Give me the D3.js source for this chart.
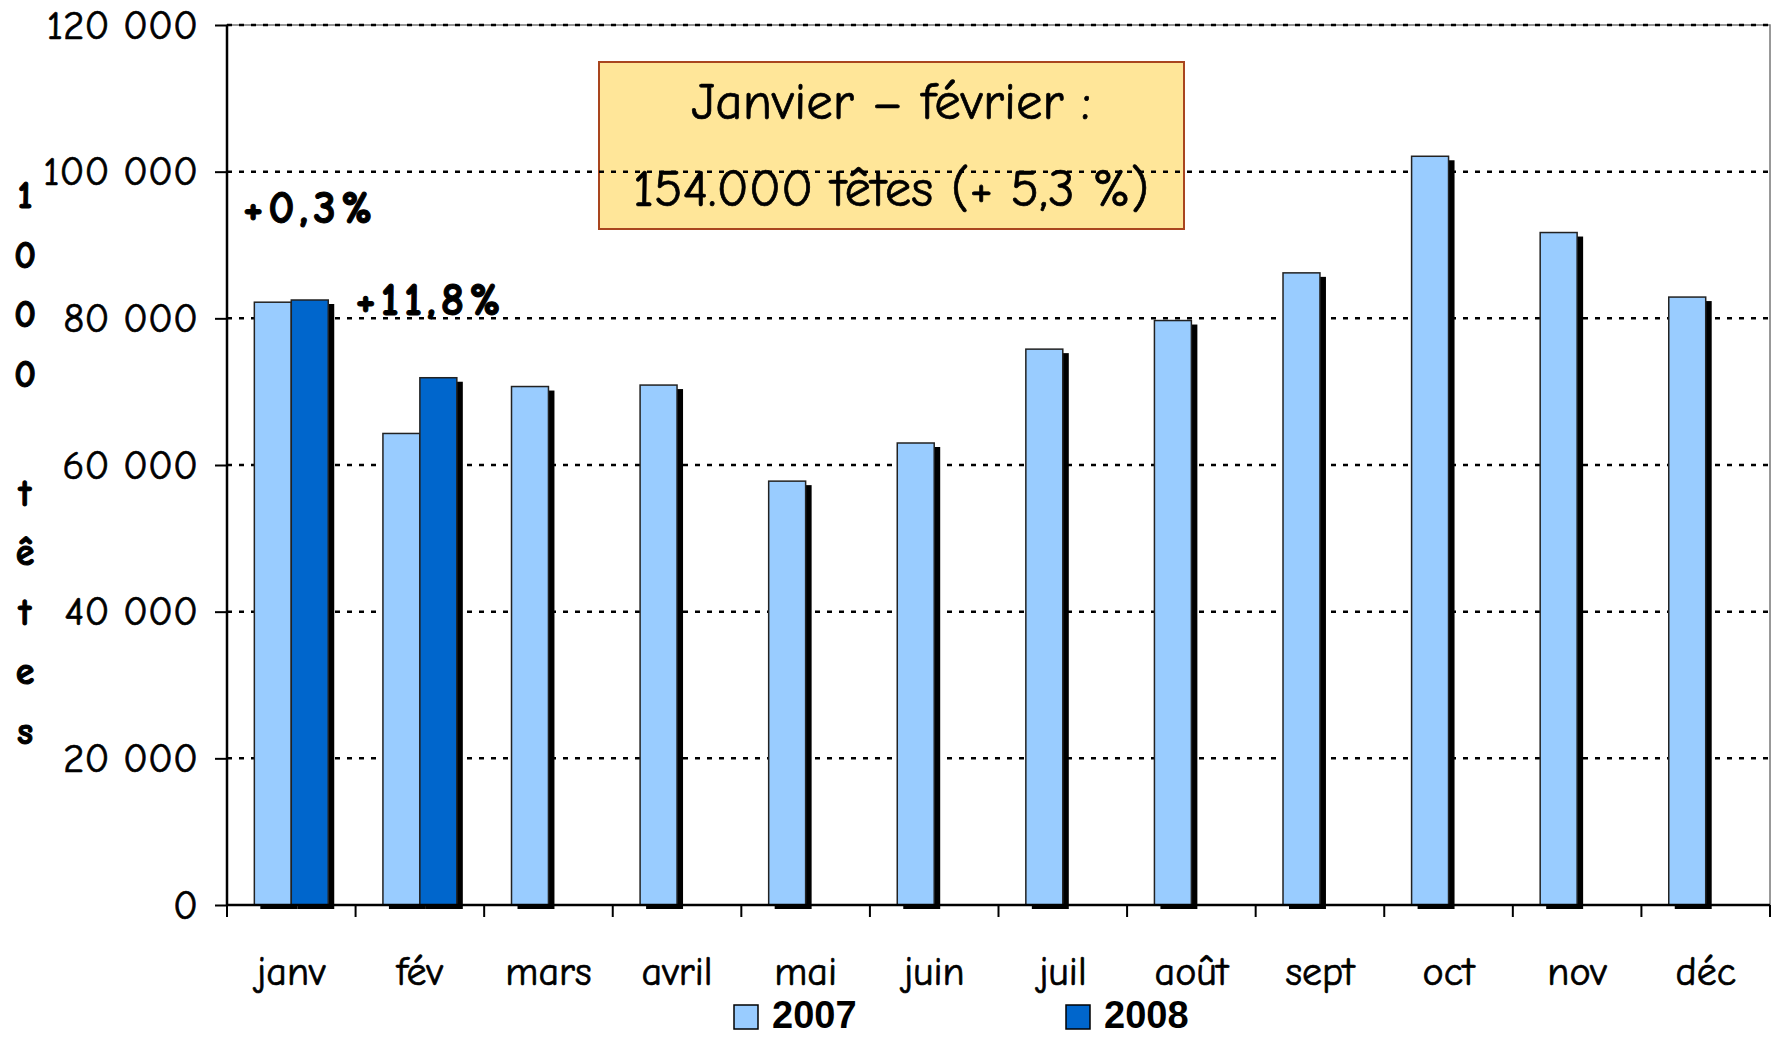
<!DOCTYPE html>
<html>
<head>
<meta charset="utf-8">
<script src="https://cdn.jsdelivr.net/npm/d3@7"></script>
<style>
  body { margin: 0; background: #fff; }
  svg text { font-family: "Comic Sans MS", "Comic Neue", "Open Sans", sans-serif; fill: #000; }
  .thick { stroke: #000; stroke-width: 0.7px; }
</style>
</head>
<body>
<div id="chart"></div>
<script>
var months = ["janv", "fév", "mars", "avril", "mai", "juin", "juil", "août", "sept", "oct", "nov", "déc"];
var years = ["2007", "2008"];
var values2007 = [82.2, 64.3, 70.7, 70.9, 57.8, 63.0, 75.8, 79.7, 86.2, 102.1, 91.7, 82.9];
var values2008 = [82.5, 71.9];
var yTicks = [0, 20000, 40000, 60000, 80000, 100000, 120000];
var growthLabels = ["+0,3%", "+11,8%"];
var axisTitle = "1000 têtes";
var boxLines = ["Janvier – février :", "154.000 têtes (+ 5,3 %)"];

var colors = {"2007": "#99CCFF", "2008": "#0066CC"};

var width = 1776, height = 1038;
var margin = {top: 25, right: 6, bottom: 133, left: 227};
var plotW = width - margin.left - margin.right,
    plotH = height - margin.top - margin.bottom;

var svg = d3.select("#chart").append("svg")
    .attr("width", width)
    .attr("height", height);

var g = svg.append("g")
    .attr("transform", "translate(" + margin.left + "," + margin.top + ")");

var x = d3.scaleBand().domain(months).range([0, plotW]).padding(0);
var x1 = d3.scaleBand().domain(years).range([0, x.bandwidth()]).paddingInner(0).paddingOuter(0.74);
var y = d3.scaleLinear().domain([0, 120000]).range([plotH, 0]);

// rows of data: one per bar
var bars = [];
months.forEach(function(m, i) {
  bars.push({month: m, year: "2007", value: values2007[i] * 1000});
  if (i < values2008.length) bars.push({month: m, year: "2008", value: values2008[i] * 1000});
});

// plot frame
g.append("rect")
    .attr("width", plotW)
    .attr("height", plotH)
    .attr("fill", "none")
    .attr("stroke", "#777")
    .attr("stroke-width", 1.5);

// annotation box (under the grid so the dotted line shows through)
var box = g.append("g").attr("transform", "translate(" + (599 - margin.left) + "," + (62 - margin.top) + ")");
box.append("rect")
    .attr("width", 585)
    .attr("height", 167)
    .attr("fill", "#FFE699")
    .attr("stroke", "#A9451E")
    .attr("stroke-width", 2);

// grid
g.selectAll(".grid")
    .data(yTicks.slice(1))
  .enter().append("line")
    .attr("class", "grid")
    .attr("x1", 0)
    .attr("x2", plotW)
    .attr("y1", function(d) { return y(d); })
    .attr("y2", function(d) { return y(d); })
    .attr("stroke", "#000")
    .attr("stroke-width", 2.5)
    .attr("stroke-dasharray", "5,7");

// box veil over the gridline, then text
box.append("rect")
    .attr("x", 1).attr("y", 1)
    .attr("width", 583)
    .attr("height", 165)
    .attr("fill", "#FFE699")
    .attr("fill-opacity", 0.6);

box.selectAll("text")
    .data(boxLines)
  .enter().append("text")
    .attr("class", "thick")
    .attr("x", 292)
    .attr("y", function(d, i) { return 44 + i * 87; })
    .attr("text-anchor", "middle")
    .attr("dominant-baseline", "middle")
    .style("font-size", "53px")
    .text(function(d) { return d; });

// shadows
g.selectAll(".shadow")
    .data(bars)
  .enter().append("rect")
    .attr("class", "shadow")
    .attr("x", function(d) { return x(d.month) + x1(d.year) + 6; })
    .attr("y", function(d) { return y(d.value) + 4; })
    .attr("width", x1.bandwidth())
    .attr("height", function(d) { return plotH - y(d.value); })
    .attr("fill", "#000");

g.selectAll(".bar")
    .data(bars)
  .enter().append("rect")
    .attr("class", "bar")
    .attr("x", function(d) { return x(d.month) + x1(d.year); })
    .attr("y", function(d) { return y(d.value); })
    .attr("width", x1.bandwidth())
    .attr("height", function(d) { return plotH - y(d.value); })
    .attr("fill", function(d) { return colors[d.year]; })
    .attr("stroke", "#222")
    .attr("stroke-width", 1.5);

// axes
var yAxis = g.append("g")
    .call(d3.axisLeft(y).tickValues(yTicks).tickSize(12).tickPadding(17)
      .tickFormat(function(d) { return d3.format(",")(d).replace(/,/g, " "); }));
yAxis.select(".domain").attr("stroke-width", 2.5).attr("d", "M0," + plotH + "V0");
yAxis.selectAll(".tick line").attr("stroke-width", 2);
yAxis.selectAll("text").attr("class", "thick").style("font-size", "41px").attr("fill", "#000");

var xAxis = g.append("g")
    .attr("transform", "translate(0," + plotH + ")")
    .call(d3.axisBottom(x).tickSize(0).tickPadding(52));
xAxis.select(".domain").attr("stroke-width", 2.5).attr("d", "M0,0H" + plotW);
xAxis.selectAll("text").attr("class", "thick").style("font-size", "40px").attr("fill", "#000");

// boundary ticks between months
g.selectAll(".xtick")
    .data(months.concat(["end"]))
  .enter().append("line")
    .attr("class", "xtick")
    .attr("x1", function(d, i) { return i * x.step(); })
    .attr("x2", function(d, i) { return i * x.step(); })
    .attr("y1", plotH)
    .attr("y2", plotH + 12)
    .attr("stroke", "#000")
    .attr("stroke-width", 2);

// growth labels, placed relative to the 2008 bars
g.selectAll(".growth")
    .data(growthLabels)
  .enter().append("text")
    .attr("class", "growth")
    .attr("x", function(d, i) { return i === 0 ? x(months[0]) + 16 : x(months[1]) + 0; })
    .attr("y", function(d, i) { return i === 0 ? y(values2008[0] * 1000) - 77 : y(values2008[0] * 1000) + 15; })
    .style("font-size", "46px")
    .style("font-weight", "bold")
    .style("letter-spacing", "5px")
    .attr("stroke", "#000")
    .attr("stroke-width", 1)
    .text(function(d) { return d; });

// vertical axis title, one letter per row
svg.append("g").selectAll("text")
    .data(axisTitle.split(""))
  .enter().append("text")
    .attr("x", 25)
    .attr("y", function(d, i) { return 199 + i * 59.5; })
    .attr("text-anchor", "middle")
    .attr("dominant-baseline", "middle")
    .style("font-size", "38px")
    .style("font-weight", "bold")
    .attr("stroke", "#000")
    .attr("stroke-width", 1)
    .text(function(d) { return d; });

// legend
var legend = svg.append("g").selectAll("g")
    .data(years)
  .enter().append("g")
    .attr("transform", function(d, i) { return "translate(" + (734 + i * 332) + ",1005)"; });
legend.append("rect")
    .attr("width", 24)
    .attr("height", 24)
    .attr("fill", function(d) { return colors[d]; })
    .attr("stroke", "#000")
    .attr("stroke-width", 1.5);
legend.append("text")
    .attr("x", 38)
    .attr("y", 13)
    .attr("dominant-baseline", "middle")
    .style("font-family", "'Liberation Sans', Arial, sans-serif")
    .style("font-size", "38px")
    .style("font-weight", "bold")
    .text(function(d) { return d; });
</script>
</body>
</html>
